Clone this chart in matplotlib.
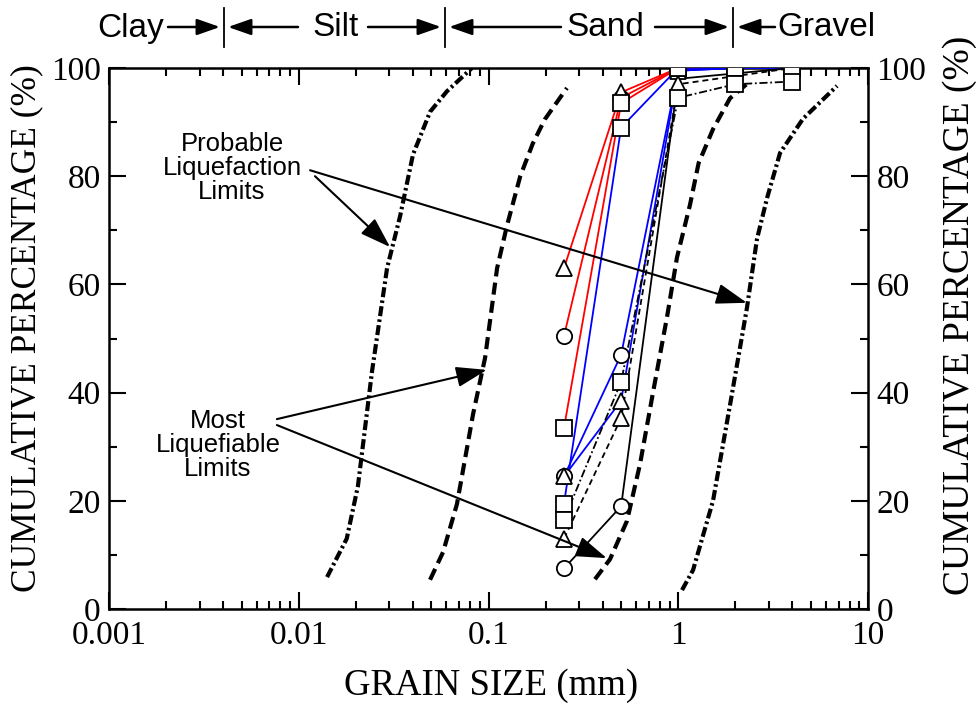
import matplotlib
matplotlib.use('Agg')
import matplotlib.pyplot as plt
from matplotlib.ticker import LogLocator, NullFormatter

plt.rcParams['font.family'] = ['Liberation Serif', 'DejaVu Serif']

# sieve sizes (mm)
sizes = [0.25, 0.5, 1.0, 2.0, 4.0]

# cumulative percentage passing for each sample
red_tri = [63.0, 95.5, 100, 100, 100]
red_circ = [50.5, 94.5, 100, 100, 100]
red_sq = [33.5, 93.5, 100, 100, 100]

blue_sq = [19.5, 89.0, 100, 100, 100]
blue_circ = [24.5, 47.0, 99.5, 100, 100]
blue_tri = [24.5, 38.5, 99.5, 100, 100]

black_circ = [7.5, 19.0, 98.0, 99.0, 100]
black_tri = [13.0, 35.3, 97.0, 98.5, 100]
black_sq = [16.5, 42.0, 94.5, 97.0, 97.5]

# limit curves (grain size mm, percent)
prob_lo_x = [0.0141, 0.0179, 0.0205, 0.0243, 0.0292, 0.0342, 0.040, 0.0492, 0.0604, 0.0818]
prob_lo_y = [5.9, 13.0, 22.7, 43.8, 63.0, 72.6, 84.0, 91.9, 95.7, 100.0]
most_lo_x = [0.0492, 0.0576, 0.0682, 0.0829, 0.0959, 0.111, 0.125, 0.147, 0.171, 0.198, 0.259]
most_lo_y = [5.4, 10.5, 19.4, 36.0, 46.4, 63.0, 70.8, 80.0, 86.0, 90.5, 96.3]
most_hi_x = [0.364, 0.437, 0.537, 0.629, 0.736, 0.873, 0.985, 1.153, 1.28, 1.525, 1.874, 2.40]
most_hi_y = [5.5, 9.2, 16.3, 26.8, 40.0, 54.0, 65.0, 74.7, 82.4, 88.7, 94.4, 97.6]
prob_hi_x = [1.047, 1.197, 1.525, 1.874, 2.30, 2.60, 2.94, 3.44, 4.54, 6.87]
prob_hi_y = [3.5, 7.2, 20.0, 37.7, 55.6, 68.4, 76.0, 84.3, 90.6, 96.7]

xticks = [0.001, 0.01, 0.1, 1, 10]
xtick_labels = ['0.001', '0.01', '0.1', '1', '10']
yticks = [0, 20, 40, 60, 80, 100]
yminor = [10, 30, 50, 70, 90]

W, H = 980, 704
fig = plt.figure(figsize=(W / 100, H / 100), dpi=100)
ax = fig.add_axes([109 / W, 1 - 609 / H, 759 / W, 541 / H])
ax.set_xscale('log')
ax.set_xlim(0.001, 10)
ax.set_ylim(0, 100)


def fx(px):
    return px / W


def fy(py):
    return 1 - py / H


# heavy limit curves
dd = (2.4, 0.8, 0.6, 0.8)
ax.plot(prob_lo_x, prob_lo_y, color='black', lw=3, dashes=dd, zorder=2)
ax.plot(prob_hi_x, prob_hi_y, color='black', lw=3, dashes=dd, zorder=2)
ax.plot(most_lo_x, most_lo_y, color='black', lw=3, dashes=(2.9, 1.5), zorder=2)
ax.plot(most_hi_x, most_hi_y, color='black', lw=3, dashes=(2.9, 1.5), zorder=2)

# sample curves
lines = [
    (red_tri, 'red', '-'), (red_circ, 'red', '-'), (red_sq, 'red', '-'),
    (blue_sq, 'blue', '-'), (blue_circ, 'blue', '-'), (blue_tri, 'blue', '-'),
    (black_circ, 'black', '-'), (black_tri, 'black', (0, (3.3, 2.2))),
    (black_sq, 'black', (0, (4.5, 1.5, 1.0, 1.5))),
]
for vals, col, ls in lines:
    ax.plot(sizes, vals, color=col, ls=ls, lw=1.3, zorder=3)

mk = dict(ls='none', mfc='white', mec='black', mew=1.3, zorder=4)
for vals in [red_circ, blue_circ, black_circ]:
    ax.plot(sizes, vals, marker='o', ms=11, markevery=[0, 1], **mk)
for vals in [red_tri, blue_tri, black_tri]:
    ax.plot(sizes, vals, marker='^', ms=12, markevery=[0, 1, 2], **mk)
for vals in [red_sq, blue_sq, black_sq]:
    ax.plot(sizes, vals, marker='s', ms=12, **mk)

# annotations
arr = dict(arrowstyle='-|>,head_length=0.9,head_width=0.3', color='black',
           lw=1.5, mutation_scale=21, shrinkA=0, shrinkB=0)
ax.text(0.00445, 81.5, 'Probable\nLiquefaction\nLimits', ha='center', va='center',
        fontsize=18.5, family='Liberation Sans', linespacing=1.0)
ax.annotate('', xy=(2.30, 56.6), xytext=(0.01147, 81.1), arrowprops=arr, zorder=5)
ax.annotate('', xy=(0.0303, 66.9), xytext=(0.01218, 80.0), arrowprops=arr, zorder=5)
ax.text(0.00375, 30.3, 'Most\nLiquefiable\nLimits', ha='center', va='center',
        fontsize=18.5, family='Liberation Sans', linespacing=1.0)
ax.annotate('', xy=(0.098, 44.2), xytext=(0.00767, 35.1), arrowprops=arr, zorder=5)
ax.annotate('', xy=(0.42, 9.4), xytext=(0.00767, 34.0), arrowprops=arr, zorder=5)

# axes styling
ax.set_xticks(xticks)
ax.set_xticklabels(xtick_labels)
ax.xaxis.set_minor_locator(LogLocator(base=10, subs=range(2, 10)))
ax.xaxis.set_minor_formatter(NullFormatter())
ax.set_yticks(yticks)
ax.set_yticks(yminor, minor=True)
ax.tick_params(which='both', direction='in', top=True, right=True,
               labelright=True, width=1.5, labelsize=24)
ax.tick_params(which='major', length=12)
ax.tick_params(axis='x', which='major', pad=8)
ax.tick_params(axis='y', which='major', pad=6)
ax.tick_params(which='minor', length=6)
for s in ax.spines.values():
    s.set_linewidth(1.8)

fig.text(fx(27), fy(328), 'CUMULATIVE PERCENTAGE (%)', rotation=90,
         ha='center', va='center', fontsize=25.5)
fig.text(fx(960), fy(315), 'CUMULATIVE PERCENTAGE (%)', rotation=90,
         ha='center', va='center', fontsize=27)
fig.text(fx(491), fy(686), 'GRAIN SIZE (mm)', ha='center', va='center', fontsize=26.5)

# soil classification header
hdr = dict(ha='center', va='center', fontsize=24, family='Liberation Sans')
for label, cx in [('Clay', 131), ('Silt', 336), ('Sand', 605), ('Gravel', 826)]:
    fig.text(fx(cx), fy(28), label, **hdr)
harr = dict(arrowstyle='-|>,head_length=1.0,head_width=0.35', color='black',
            lw=1.8, mutation_scale=14, shrinkA=0, shrinkB=0)
for x0, x1 in [(168, 220), (298, 228), (368, 441), (561, 449), (655, 729), (775, 737)]:
    fig.add_artist(matplotlib.patches.FancyArrowPatch(
        (fx(x0), fy(27)), (fx(x1), fy(27)), transform=fig.transFigure, **harr))
for sx in [224, 445, 733]:
    fig.add_artist(matplotlib.lines.Line2D([fx(sx), fx(sx)], [fy(8), fy(47)],
                                           color='black', lw=1.3))

fig.savefig('out.png', dpi=100, facecolor='white')
